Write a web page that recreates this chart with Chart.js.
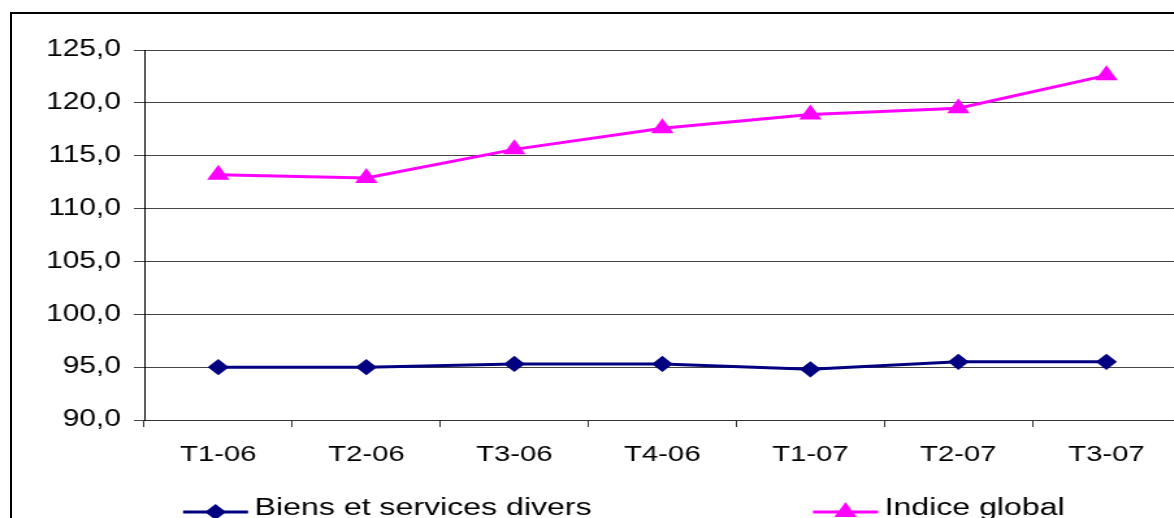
<!DOCTYPE html>
<html>
<head>
<meta charset="utf-8">
<script src="https://cdn.jsdelivr.net/npm/chart.js@4/dist/chart.umd.min.js"></script>
<style>
  html, body { margin: 0; padding: 0; background: #fff; overflow: hidden; width: 1174px; height: 518px; }
  .frame { position: absolute; left: 10px; top: 12px; width: 1200px; height: 600px; border-left: 2px solid #000; border-top: 2px solid #000; }
  .wrap { position: absolute; left: 0; top: 0; transform: scaleX(1.3); transform-origin: 0 0; }
</style>
</head>
<body>
<div class="frame"></div>
<div class="wrap"><canvas id="myChart" width="918" height="560"></canvas></div>
<script>
const categories = ['T1-06', 'T2-06', 'T3-06', 'T4-06', 'T1-07', 'T2-07', 'T3-07']
const biens = [95.0, 95.0, 95.3, 95.3, 94.8, 95.5, 95.5]
const indice = [113.2, 112.9, 115.6, 117.6, 118.9, 119.5, 122.6]
const seriesNames = ['Biens et services divers', 'Indice global']
const yMin = 90
const yMax = 125
const yStep = 5

const font = 'Liberation Sans, Arial, sans-serif'

// legend drawn by hand so the two items sit where the original has them
const legendSpots = [140.8, 625.4]
const bottomLegend = {
  id: 'bottomLegend',
  afterDraw (chart) {
    const ctx = chart.ctx
    chart.data.datasets.forEach((ds, i) => {
      const x = legendSpots[i]
      const y = 512
      ctx.save()
      ctx.strokeStyle = ds.borderColor
      ctx.lineWidth = 3
      ctx.beginPath()
      ctx.moveTo(x, y)
      ctx.lineTo(x + 50, y)
      ctx.stroke()
      ctx.fillStyle = ds.pointBackgroundColor
      Chart.helpers.drawPoint(ctx, {
        pointStyle: ds.pointStyle,
        radius: ds.pointRadius,
        rotation: 0,
        borderWidth: 1
      }, x + 25, y)
      ctx.fillStyle = '#000'
      ctx.font = '24.7px ' + font
      ctx.textBaseline = 'middle'
      ctx.textAlign = 'left'
      ctx.fillText(ds.label, x + 55, 508)
      ctx.restore()
    })
  }
}

new Chart(document.getElementById('myChart'), {
  type: 'line',
  data: {
    labels: categories,
    datasets: [{
      label: seriesNames[0],
      data: biens,
      borderColor: '#000080',
      backgroundColor: '#000080',
      pointBackgroundColor: '#000080',
      pointBorderColor: '#000080',
      pointStyle: 'rectRot',
      pointRadius: 6,
      borderWidth: 3,
      tension: 0
    }, {
      label: seriesNames[1],
      data: indice,
      borderColor: '#ff00ff',
      backgroundColor: '#ff00ff',
      pointBackgroundColor: '#ff00ff',
      pointBorderColor: '#ff00ff',
      pointStyle: 'triangle',
      pointRadius: 7,
      borderWidth: 3,
      tension: 0
    }]
  },
  options: {
    responsive: false,
    animation: false,
    layout: { padding: { left: 0, right: 0, top: 50, bottom: 90 } },
    plugins: {
      legend: { display: false },
      tooltip: { enabled: false }
    },
    scales: {
      x: {
        offset: true,
        grid: { offset: true, drawOnChartArea: false, color: '#333', tickLength: 7 },
        border: { color: '#333', width: 1 },
        ticks: { color: '#000', font: { family: font, size: 22.5 }, padding: 14, maxRotation: 0 },
        afterFit: (s) => { s.height = 50 }
      },
      y: {
        min: yMin,
        max: yMax,
        grid: { color: '#444', tickLength: 8 },
        border: { color: '#000', width: 1 },
        ticks: {
          stepSize: yStep,
          color: '#000',
          font: { family: font, size: 23 },
          padding: 10,
          callback: (v) => v.toFixed(1).replace('.', ',')
        },
        afterFit: (s) => { s.width = 111 }
      }
    }
  },
  plugins: [bottomLegend]
})
</script>
</body>
</html>
